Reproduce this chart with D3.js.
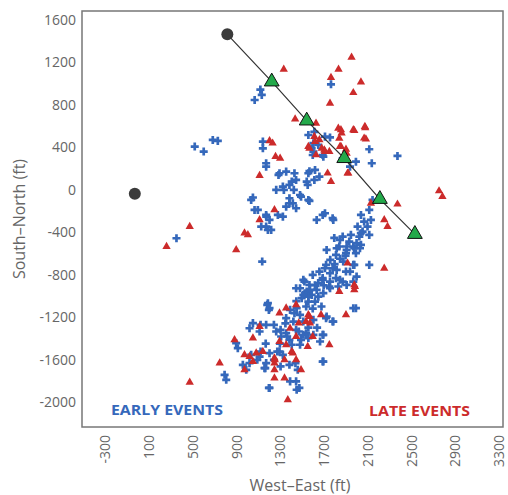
<!DOCTYPE html>
<html>
<head>
<meta charset="utf-8">
<script src="https://cdn.jsdelivr.net/npm/d3@7"></script>
<style>
  body { margin: 0; background: #fff; }
  svg { display: block; }
</style>
</head>
<body>
<div id="chart"></div>
<script>
// Microseismic event locations, plan view (West-East vs South-North)

const width = 508,
  height = 495;

const xTicks = [-300, 100, 500, 900, 1300, 1700, 2100, 2500, 2900, 3300];
const yTicks = [1600, 1200, 800, 400, 0, -400, -800, -1200, -1600, -2000];

// early events (blue crosses), [west-east, south-north] in ft
const earlyEvents = [
  [1121,944],[1069,846],[1134,894],
  [521,407],[603,360],[686,470],[732,461],
  [1144,454],[1144,391],[1174,250],
  [1767,994],
  [1758,493],[1615,546],[1600,328],[1691,328],[2117,382],[2375,319],[1995,265],[2140,250],[1874,297],
  [1570,175],[1615,93],[1554,46],[1661,124],[1493,-65],[1570,-105],[2147,-96],
  [1691,-237],[1782,-268],[2041,-237],[2117,-190],[2132,-284],[2101,-347],[2056,-394],[2026,-441],[2117,-425],
  [1797,-454],[1874,-441],[1934,-488],[1843,-535],[1980,-551],[2041,-519],[1904,-598],[1995,-598],[1813,-614],
  [1722,-708],[1661,-771],[1782,-740],[1600,-802],[1524,-865],[1691,-849],[1813,-833],[1904,-771],[1980,-708],
  [1874,-865],[1570,-897],[1752,-912],[2117,-708],
  [1174,218],[1296,156],[1357,171],[1433,156],[1266,-1],[1327,30],[1387,46],[1448,93],[1053,-73],[1098,-190],
  [1174,-237],[1205,-284],[1174,-347],[1220,-378],[1281,-237],[1327,-253],[1357,-159],[1418,-127],[1387,-80],[1448,-174],
  [354,-457],[1138,-677],[1448,-928],
  [1190,-1069],[1205,-1116],[1357,-1210],[1433,-1163],
  [1053,-1257],[1022,-1305],[1174,-1273],[1114,-1336],[1266,-1336],[1311,-1383],[1357,-1352],[1387,-1414],[1448,-1320],
  [900,-1446],[915,-1493],
  [961,-1650],[992,-1697],[1022,-1634],[1114,-1572],[1205,-1540],[1296,-1525],[1174,-1634],[1159,-1681],[1327,-1556],
  [1387,-1650],[1463,-1697],[1205,-1868],[1448,-1806],[794,-1744],[809,-1791],
  [1995,-1116],[1782,-1242],[1722,-1210],[1539,-1352],[1493,-1414],[1691,-1367],[1691,-1619],[1478,-1868],
  [1727,-567],[1819,-551],[1910,-567],[1971,-535],[2032,-551],[1879,-677],[1971,-708],[1712,-740],[1758,-787],
  [1819,-755],[1941,-771],[2001,-818],[1691,-833],[1758,-865],[1849,-849],[1910,-897],[1971,-865],[1514,-849],
  [1484,-928],[1545,-960],[1590,-991],[1636,-944],[1697,-975],[1758,-928],[1834,-912],[1499,-1022],[1560,-1054],
  [1621,-1054],[1651,-1007],[1453,-1116],[1393,-1132],[1484,-1179],[1423,-1242],[1514,-1242],[1606,-1226],
  [1727,-1195],[1788,-1242],[1971,-1116],[1184,-1085],[1199,-1132],[1123,-1273],[1245,-1273],[1306,-1320],
  [1366,-1383],[1472,-1336],[1514,-1367],[1408,-1461],[1484,-1461],[1560,-1398],[1606,-1367],[1667,-1430],
  [1697,-1367],[1123,-1525],[1093,-1603],[1276,-1525],[1245,-1603],[1306,-1665],[1442,-1634],[1166,-1681],
  [1393,-1806],[1199,-1868],[1453,-1885],[1697,-1619],[1037,-1556],
  [1530,-975],[1575,-944],[1560,-1007],[1514,-991],
  [1650,-880],[1700,-900],[1620,-900],[1800,-700],[1850,-650],[1760,-660],[1900,-620],[1680,-1100],[1600,-1120],
  [1540,-1100],[1450,-1050],[1640,-1300],[1560,-1300],[1350,-1260],[1300,-1450],[1170,-1450],
  [1287,140],[1560,156],[1621,187],[1408,77],[1545,77],[1336,-1],[1427,-1],[1484,-49],[1560,-96],[1037,-96],
  [1068,-190],[1175,-253],[1129,-347],[1190,-378],[1387,-127],[1636,-284],[1712,-221],[1788,-284],
  [2070,-300],[2010,-347],[2040,-409],[1949,-425],[1849,-472],[1910,-535],[2001,-503],
  [1560,516],[1606,439],[1651,423],[1712,501],[1590,391],[1606,360],[1697,312],[1941,218]
];

// late events (red triangles)
const lateEvents = [
  [1335,1135],[1439,667],[1205,461],[1233,439],[1260,312],[1302,297],
  [1955,1249],[1836,1135],[1767,1057],[2041,1016],[1971,915],[1758,815],[1630,627],
  [1858,565],[1980,558],[2080,583],[1843,484],[2086,477],[1661,470],[1570,391],[1706,375],[1858,407],[1904,382],
  [1615,501],[1752,360],[1630,328],
  [1736,156],[1767,77],[1919,156],[2132,-127],[2375,-136],[2755,-11],[2786,-65],[2254,-284],[2284,-347],
  [1919,-692],[2254,-740],[1980,-897],
  [1114,133],[1250,-190],[1114,-284],[475,-347],[263,-535],[976,-409],[1007,-425],[900,-567],
  [1357,-1116],[1296,-1163],[1448,-1085],[1114,-1289],[1053,-1398],[1296,-1430],[1357,-1461],[1448,-1383],[885,-1414],
  [976,-1556],[1022,-1572],[1083,-1540],[1144,-1525],[1053,-1619],[976,-1697],[1250,-1587],[1250,-1634],[1250,-1697],
  [1250,-1775],[1342,-1603],[1342,-1775],[1418,-1540],[1448,-1603],[1372,-1980],[749,-1634],[475,-1815],
  [1843,-960],[1980,-944],[1904,-1179],[1676,-1179],[1570,-1195],[1539,-1242],[1600,-1383],[1752,-1461],[1554,-1477],
  [1493,-1697],[1986,-912],[1560,-1179],[1472,-1257],[1393,-1305],[1575,-1257],[1408,-1525],[1253,-1603],
  [1560,407],[1621,454],[1682,391],[1712,360],[1834,580],[1864,533],[1971,565],[2077,595],[2070,486],[1849,407],
  [1910,344],[1925,156]
];

// well head / offset well (dark circles)
const wells = [[819,1465],[-27,-37]];
// stages along the lateral (green triangles)
const stages = [[1225,1019],[1545,651],[1888,297],[2214,-88],[2534,-418]];

const blue = "#3568bb",
  red = "#cc2b2b";

const svg = d3.select("#chart")
  .append("svg")
  .attr("width", width)
  .attr("height", height);

const x = d3.scaleLinear().domain([-510, 3340]).range([82, 503]);
const y = d3.scaleLinear().domain([-2236, 1685]).range([427, 11]);

// plot frame
svg.append("rect")
  .attr("x", x.range()[0])
  .attr("y", y.range()[1])
  .attr("width", x.range()[1] - x.range()[0])
  .attr("height", y.range()[0] - y.range()[1])
  .attr("fill", "none")
  .attr("stroke", "#777")
  .attr("stroke-width", 1.5);

const yAxis = svg.append("g")
  .attr("transform", `translate(${x.range()[0]},0)`)
  .call(d3.axisLeft(y).tickValues(yTicks).tickSize(0).tickPadding(6).tickFormat(d => String(d)));

const xAxis = svg.append("g")
  .attr("transform", `translate(0,${y.range()[0]})`)
  .call(d3.axisBottom(x).tickValues(xTicks).tickSize(0).tickFormat(d => String(d)));

xAxis.selectAll("text")
  .attr("transform", "rotate(-90)")
  .attr("text-anchor", "end")
  .attr("x", -8)
  .attr("y", 0)
  .attr("dy", "0.35em");

[xAxis, yAxis].forEach(g => {
  g.select(".domain").remove();
  g.selectAll("text")
    .attr("fill", "#666")
    .style("font-family", "'Open Sans', sans-serif")
    .style("font-size", "14px");
});

// axis titles
svg.append("text")
  .attr("transform", `translate(25,${(y.range()[0] + y.range()[1]) / 2}) rotate(-90)`)
  .attr("text-anchor", "middle")
  .attr("fill", "#666")
  .style("font-family", "'Open Sans', sans-serif")
  .style("font-size", "16px")
  .text("South\u2013North (ft)");

svg.append("text")
  .attr("x", 300)
  .attr("y", 491)
  .attr("text-anchor", "middle")
  .attr("fill", "#666")
  .style("font-family", "'Open Sans', sans-serif")
  .style("font-size", "16px")
  .text("West\u2013East (ft)");

const cross = d3.symbol().type(d3.symbolCross).size(36);
const tri = d3.symbol().type(d3.symbolTriangle).size(30);

svg.append("g")
  .selectAll("path")
  .data(earlyEvents)
  .join("path")
  .attr("transform", d => `translate(${x(d[0])},${y(d[1])})`)
  .attr("d", cross)
  .attr("fill", blue);

svg.append("g")
  .selectAll("path")
  .data(lateEvents)
  .join("path")
  .attr("transform", d => `translate(${x(d[0])},${y(d[1])})`)
  .attr("d", tri)
  .attr("fill", red);

// lateral line from well head through the stages
svg.append("path")
  .datum([wells[0], ...stages])
  .attr("d", d3.line().x(d => x(d[0])).y(d => y(d[1])))
  .attr("fill", "none")
  .attr("stroke", "#333")
  .attr("stroke-width", 1.2);

svg.append("g")
  .selectAll("circle")
  .data(wells)
  .join("circle")
  .attr("cx", d => x(d[0]))
  .attr("cy", d => y(d[1]))
  .attr("r", 6)
  .attr("fill", "#3b3b3b");

svg.append("g")
  .selectAll("path")
  .data(stages)
  .join("path")
  .attr("transform", d => `translate(${x(d[0])},${y(d[1])})`)
  .attr("d", d3.symbol().type(d3.symbolTriangle).size(95))
  .attr("fill", "#23a94a")
  .attr("stroke", "#111")
  .attr("stroke-width", 1);

// event group labels
svg.append("text")
  .attr("x", 111)
  .attr("y", 415)
  .attr("fill", blue)
  .style("font-family", "'Open Sans', sans-serif")
  .style("font-weight", "bold")
  .style("font-size", "14px")
  .attr("textLength", 112)
  .attr("lengthAdjust", "spacingAndGlyphs")
  .text("EARLY EVENTS");

svg.append("text")
  .attr("x", 369)
  .attr("y", 416)
  .attr("fill", red)
  .style("font-family", "'Open Sans', sans-serif")
  .style("font-weight", "bold")
  .style("font-size", "14px")
  .attr("textLength", 101)
  .attr("lengthAdjust", "spacingAndGlyphs")
  .text("LATE EVENTS");
</script>
</body>
</html>
